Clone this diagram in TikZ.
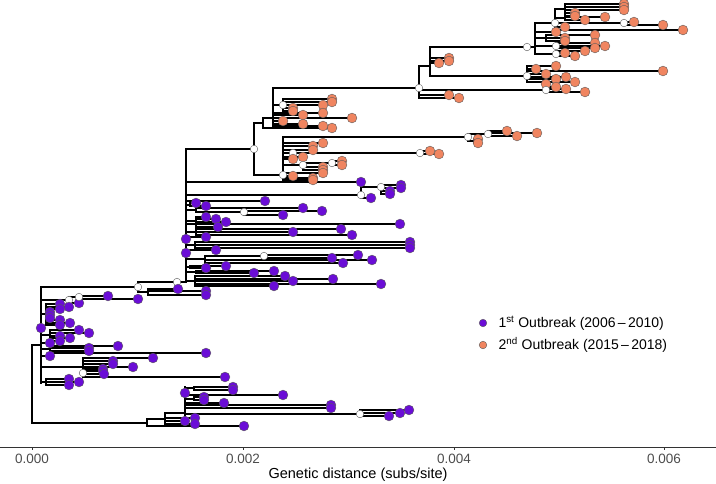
\documentclass[tikz,border=0pt]{standalone}
\usepackage{fontspec}
\setmainfont{Liberation Sans}
\usetikzlibrary{calc}
\definecolor{purp}{RGB}{106,13,214}
\definecolor{coral}{RGB}{240,133,96}
\pgfdeclarelayer{bg}
\pgfsetlayers{bg,main}
% branch to a parent x, then down the node's own vertical
\newcommand\nd[5]{\begin{pgfonlayer}{bg}\draw[edge] (#1,#2) -- (#3,#2) (#3,#4) -- (#3,#5);\end{pgfonlayer}}
% leaf: branch from parent x, dot at the tip
\newcommand\lf[4]{\begin{pgfonlayer}{bg}\draw[edge] (#1,#2) -- (#3,#2);\end{pgfonlayer}\path[#4] (#3,#2) circle (4.9pt);}
\newcommand\wn[2]{\path[wnode] (#1,#2) circle (3.8pt);}

\begin{document}
\begin{tikzpicture}[x=1pt,y=-1pt]
\tikzstyle{edge}=[line width=2.6pt,line cap=rect,black]
\tikzstyle{tp}=[fill=purp,draw=black!65,line width=0.4pt]
\tikzstyle{to}=[fill=coral,draw=black!65,line width=0.4pt]
\tikzstyle{wnode}=[fill=white,draw=black!65,line width=0.4pt]
\tikzstyle{axis}=[line width=0.8pt,black!80]
\useasboundingbox (0,0) rectangle (716,483);

% root
\begin{pgfonlayer}{bg}\draw[edge] (32,345) -- (32,423);\end{pgfonlayer}

% first outbreak, basal clade
\nd{32}{345}{41}{287}{383}
\nd{41}{287}{138}{282}{292} \wn{138}{287}
\nd{138}{282}{186}{149}{282} \wn{177}{282}
\nd{138}{292}{148}{289}{295}
\foreach \y/\x in {289/178,291/206,295/206} {\lf{148}{\y}{\x}{tp}}
\nd{41}{300}{69}{297}{303} \nd{69}{297}{79}{296}{299}
\lf{79}{296}{108}{tp} \lf{79}{299}{138}{tp} \lf{69}{303}{79}{tp}
\wn{69}{300} \wn{79}{297}
\nd{41}{314}{46}{304}{325}
\foreach \y/\x in {304/60,307/69,309/60,312/50,315/50,318/50,320/60,323/70,325/60} {\lf{46}{\y}{\x}{tp}}
\lf{41}{328}{41}{tp}
\nd{41}{335}{50}{330}{341}
\foreach \y/\x in {330/79,333/89,336/60,338/70,341/60} {\lf{50}{\y}{\x}{tp}}
\lf{41}{343}{50}{tp}
\nd{41}{349}{50}{346}{353}
\foreach \y/\x in {346/118,348/89,351/89,353/206} {\lf{50}{\y}{\x}{tp}}
\lf{41}{356}{50}{tp}
\nd{41}{367}{83}{358}{377}
\foreach \y/\x in {358/153,361/113,364/113,367/133,369/103,371/103,374/104,377/225} {\lf{83}{\y}{\x}{tp}}
\wn{83}{373}
\nd{41}{382}{46}{379}{385}
\foreach \y/\x in {379/69,382/79,385/69} {\lf{46}{\y}{\x}{tp}}

% middle clade
\nd{186}{149}{254}{123}{175}
\lf{186}{182}{361}{tp}
\nd{186}{195}{361}{187}{198} \nd{361}{187}{381}{185}{194}
\foreach \y/\x in {185/401,188/401,191/390,194/390} {\lf{381}{\y}{\x}{tp}}
\lf{361}{198}{371}{tp}
\wn{361}{195} \wn{381}{187}
\lf{186}{201}{265}{tp}
\nd{186}{205}{190}{203}{206} \lf{190}{203}{196}{tp} \lf{190}{206}{206}{tp}
\nd{186}{210}{196}{208}{212} \lf{196}{208}{303}{tp}
\nd{196}{212}{244}{211}{215} \lf{244}{211}{322}{tp} \lf{244}{215}{283}{tp} \wn{244}{212}
\nd{186}{221}{196}{217}{227}
\foreach \y/\x in {217/206,219/216,222/226,227/218} {\lf{196}{\y}{\x}{tp}}
\lf{186}{224}{400}{tp}
\nd{186}{232}{196}{229}{235}
\foreach \y/\x in {229/341,232/293,235/352} {\lf{196}{\y}{\x}{tp}}
\lf{186}{237}{206}{tp} \lf{186}{239}{186}{tp}
\nd{186}{245}{195}{242}{248}
\foreach \y in {242,245,248} {\lf{195}{\y}{410}{tp}}
\lf{186}{250}{216}{tp} \lf{186}{253}{186}{tp}
\nd{186}{259}{205}{256}{263} \nd{205}{256}{264}{255}{258}
\lf{264}{255}{358}{tp} \lf{264}{258}{332}{tp} \wn{264}{256}
\lf{205}{260}{372}{tp} \lf{205}{263}{343}{tp}
\nd{186}{267}{190}{266}{268} \lf{190}{266}{226}{tp} \lf{190}{268}{206}{tp}
\nd{186}{272}{196}{271}{273} \lf{196}{271}{274}{tp} \lf{196}{273}{254}{tp}
\nd{186}{281}{195}{276}{286}
\foreach \y/\x in {276/285,279/333,281/293,284/381,286/274} {\lf{195}{\y}{\x}{tp}}

% second outbreak
\nd{254}{123}{263}{118}{128} \nd{263}{118}{273}{88}{126}
\lf{263}{128}{332}{to}
\nd{273}{105}{283}{99}{111}
\foreach \y/\x in {99/332,102/332,105/323,108/293,111/293} {\lf{283}{\y}{\x}{to}}
\wn{283}{105}
\foreach \y/\x in {113/323,115/303,118/352,121/283,124/303,126/323} {\lf{273}{\y}{\x}{to}}
\nd{254}{175}{283}{137}{180}
\nd{283}{137}{468}{134}{141} \nd{468}{134}{488}{131}{136}
\foreach \y/\x in {131/507,133/537,136/517} {\lf{488}{\y}{\x}{to}}
\nd{468}{141}{474}{139}{143} \lf{474}{139}{478}{to} \lf{474}{143}{478}{to}
\wn{468}{137} \wn{488}{134}
\foreach \y/\x in {143/323,146/313,150/313} {\lf{283}{\y}{\x}{to}}
\nd{283}{153}{420}{151}{154} \lf{420}{151}{430}{to} \lf{420}{154}{439}{to}
\wn{293}{153} \wn{420}{153}
\lf{283}{157}{303}{to} \lf{283}{159}{293}{to}
\nd{283}{165}{303}{163}{170} \nd{303}{163}{332}{161}{165}
\lf{332}{161}{342}{to} \lf{332}{165}{342}{to}
\lf{303}{167}{323}{to} \lf{303}{170}{323}{to}
\wn{303}{165} \wn{332}{163}
\foreach \y/\x in {173/323,176/293,178/313,180/313} {\lf{283}{\y}{\x}{to}}
\wn{283}{175}

% second outbreak, top group
\nd{273}{88}{419}{66}{98}
\nd{419}{66}{430}{47}{76}
\nd{430}{47}{535}{23}{54} \wn{527}{47}
\nd{535}{23}{555}{9}{30}
\nd{555}{9}{565}{4}{16}
\foreach \y/\x in {4/624,7/624,10/624,13/575,16/575} {\lf{565}{\y}{\x}{to}}
\nd{555}{18}{565}{17}{20} \lf{565}{17}{605}{to} \lf{565}{20}{585}{to}
\nd{555}{23}{624}{22}{25} \lf{624}{22}{634}{to} \lf{624}{25}{663}{to}
\lf{555}{27}{565}{to} \lf{555}{30}{683}{to}
\wn{555}{23} \wn{624}{23}
\lf{535}{32}{556}{to}
\nd{535}{38}{546}{35}{41}
\foreach \y/\x in {35/595,38/565,41/565} {\lf{546}{\y}{\x}{to}}
\nd{535}{46}{556}{43}{48}
\foreach \y/\x in {43/595,46/605,48/595} {\lf{556}{\y}{\x}{to}}
\wn{556}{46}
\nd{535}{54}{556}{51}{56}
\foreach \y/\x in {51/585,53/565,56/575} {\lf{556}{\y}{\x}{to}}
\wn{556}{54}
\foreach \y/\x in {58/449,61/449,63/439} {\lf{430}{\y}{\x}{to}}
\nd{430}{76}{527}{66}{82}
\foreach \y/\x in {66/556,69/536,71/663,74/546,77/566,79/556,82/575} {\lf{527}{\y}{\x}{to}}
\wn{527}{76}
\nd{419}{90}{546}{84}{92}
\foreach \y/\x in {84/546,87/556,89/566,92/585} {\lf{546}{\y}{\x}{to}}
\wn{546}{90}
\lf{419}{95}{449}{to} \lf{419}{98}{459}{to}
\wn{419}{88} \wn{254}{149}

% first outbreak, lower clade
\nd{32}{423}{147}{419}{426}
\nd{147}{419}{165}{413}{426}
\begin{pgfonlayer}{bg}\draw[edge] (147,426) -- (165,426);\end{pgfonlayer}
\nd{165}{413}{185}{387}{416}
\nd{185}{388}{194}{387}{390} \lf{194}{387}{233}{tp} \lf{194}{390}{233}{tp}
\lf{185}{393}{185}{tp} \lf{185}{395}{283}{tp}
\nd{185}{399}{194}{397}{400} \lf{194}{397}{204}{tp} \lf{194}{400}{204}{tp}
\foreach \y/\x in {403/224,405/331,408/331} {\lf{185}{\y}{\x}{tp}}
\nd{185}{414}{360}{410}{416}
\foreach \y/\x in {410/409,413/400,416/389} {\lf{360}{\y}{\x}{tp}}
\wn{360}{414}
\foreach \y/\x in {418/195,421/185,424/195,426/244} {\lf{165}{\y}{\x}{tp}}

% legend
\path[tp] (483,323) circle (3.8pt);
\path[to] (483,345) circle (3.8pt);
\node (L1) [anchor=west,font=\fontsize{14}{16}\selectfont] at (495,323) {1\textsuperscript{st} Outbreak (2006\,–\,2010)};
\node (L2) [anchor=west,font=\fontsize{14}{16}\selectfont] at (495,345) {2\textsuperscript{nd} Outbreak (2015\,–\,2018)};

% axis
\draw[axis] (0,447) -- (716,447);
\foreach \x/\lab in {32/0.000,243/0.002,454/0.004,664/0.006} {
  \draw[axis] (\x,447) -- (\x,450);
  \node[text=black!70,font=\fontsize{13.5}{15}\selectfont] at (\x,459) {\lab};
}
\node (xlab) [font=\fontsize{14.5}{16}\selectfont] at (358,475) {Genetic distance (subs/site)};
\end{tikzpicture}
\end{document}
